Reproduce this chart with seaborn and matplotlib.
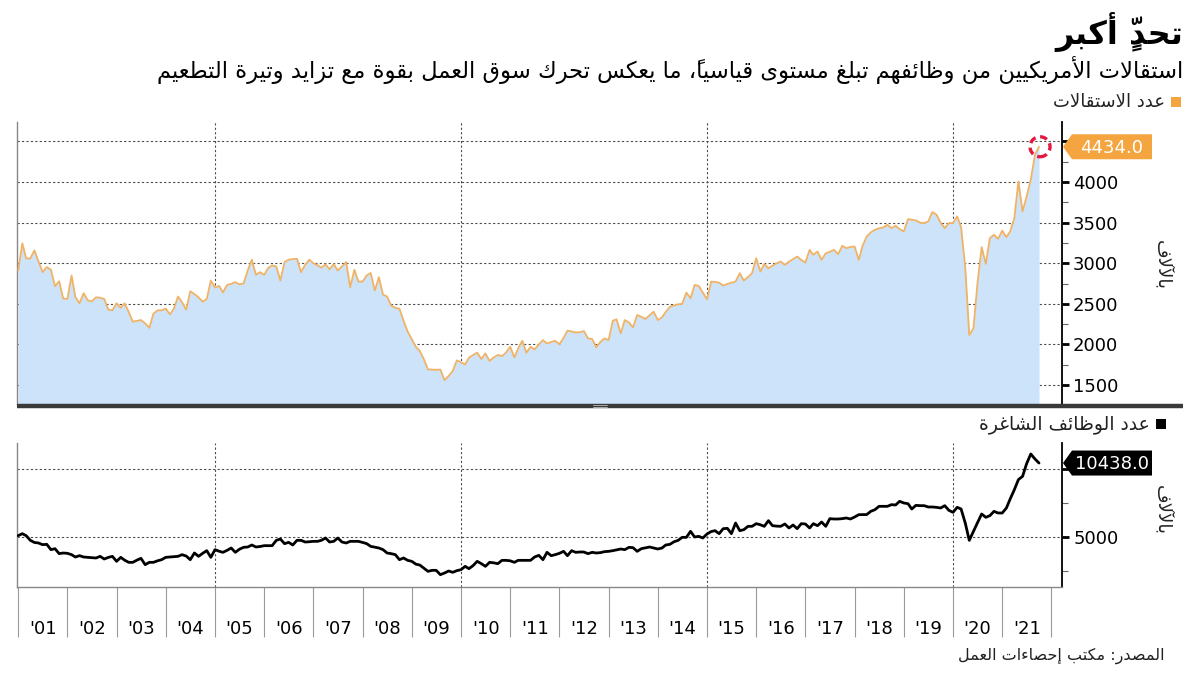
import numpy as np
import pandas as pd
import matplotlib
matplotlib.use("Agg")
import matplotlib.pyplot as plt
import seaborn as sns
from matplotlib.patches import Polygon, Circle, Rectangle
from matplotlib.lines import Line2D
from matplotlib.transforms import IdentityTransform

# ---------------- data (monthly, Dec 2000 .. Sep 2021, thousands) ----------------
first_month = "2000-12-31"
quits = [
    2911,
    3245, 3059, 3059, 3158, 3020, 2890, 2952, 2920, 2716, 2778, 2564, 2560,
    2849, 2585, 2506, 2630, 2543, 2530, 2580, 2575, 2560, 2428, 2420, 2506,
    2450, 2506, 2400, 2280, 2290, 2300, 2260, 2204, 2378, 2420, 2420, 2440,
    2370, 2440, 2590, 2520, 2428, 2655, 2620, 2580, 2527, 2560, 2787, 2700,
    2720, 2640, 2733, 2745, 2767, 2740, 2750, 2911, 3043, 2857, 2890, 2857,
    2944, 2973, 2960, 2787, 3014, 3043, 3050, 3055, 2890, 2980, 3043, 3000,
    2975, 2945, 2985, 2925, 2990, 2910, 2960, 3014, 2705, 2919, 2774, 2774,
    2850, 2880, 2663, 2828, 2613, 2590, 2477, 2450, 2440, 2291, 2159, 2064,
    1969, 1920, 1816, 1692, 1690, 1688, 1690, 1561, 1610, 1673, 1804, 1780,
    1754, 1837, 1870, 1899, 1820, 1890, 1796, 1840, 1870, 1856, 1900, 1971,
    1840, 1950, 2045, 1897, 1971, 1938, 2000, 2053, 2012, 2030, 2045, 2000,
    2080, 2169, 2160, 2148, 2150, 2165, 2074, 2066, 1963, 2030, 2074, 2053,
    2292, 2309, 2136, 2300, 2270, 2210, 2362, 2340, 2313, 2360, 2403, 2300,
    2333, 2400, 2465, 2480, 2494, 2500, 2638, 2568, 2733, 2720, 2640, 2556,
    2774, 2770, 2761, 2724, 2745, 2761, 2774, 2877, 2786, 2830, 2877, 3062,
    2897, 2992, 2938, 2970, 3000, 3021, 2979, 3020, 3050, 3082, 3040, 3008,
    3165, 3103, 3144, 3041, 3123, 3140, 3165, 3111, 3214, 3185, 3200, 3206,
    3041, 3214, 3329, 3380, 3412, 3430, 3440, 3473, 3432, 3461, 3420, 3391,
    3543, 3535, 3527, 3500, 3494, 3514, 3630, 3597, 3500, 3432, 3494, 3494,
    3576, 3444, 2950, 2115, 2198, 2753, 3198, 2992, 3309, 3350, 3300, 3400,
    3321, 3391, 3556, 4008, 3638, 3823, 4029, 4337, 4434,
]
openings = [
    5098,
    5245, 5098, 4755, 4600, 4559, 4436, 4461, 4069, 4142, 3775, 3824, 3800,
    3701, 3529, 3627, 3529, 3500, 3480, 3456, 3578, 3382, 3500, 3578, 3211,
    3505, 3300, 3137, 3137, 3300, 3431, 2966, 3137, 3137, 3250, 3333, 3505,
    3530, 3550, 3578, 3701, 3600, 3333, 3824, 3578, 3800, 3995, 3505, 4069,
    3950, 3873, 4020, 4191, 3873, 4100, 4240, 4265, 4412, 4265, 4300, 4363,
    4360, 4363, 4755, 4853, 4510, 4608, 4412, 4755, 4755, 4632, 4650, 4681,
    4681, 4755, 4926, 4632, 4681, 4926, 4632, 4559, 4681, 4681, 4681, 4600,
    4510, 4314, 4250, 4191, 4069, 3824, 3775, 3701, 3333, 3456, 3284, 3211,
    3000, 2941, 2700, 2475, 2549, 2549, 2230, 2353, 2500, 2402, 2525, 2598,
    2843, 2672, 2900, 3211, 3039, 2843, 3137, 3100, 3039, 3284, 3284, 3250,
    3137, 3284, 3284, 3284, 3284, 3529, 3652, 3333, 3873, 3627, 3701, 3800,
    3946, 3627, 3995, 3873, 3897, 3897, 3775, 3873, 3824, 3850, 3922, 3946,
    3995, 4050, 4118, 4069, 4240, 4216, 3946, 4142, 4200, 4265, 4191, 4118,
    4191, 4412, 4461, 4650, 4755, 4975, 4975, 5417, 5000, 5049, 4926, 5221,
    5400, 5466, 5245, 5613, 5637, 5245, 6029, 5466, 5539, 5784, 5784, 5980,
    5900, 5784, 6201, 5833, 5800, 5784, 5956, 5662, 5882, 5613, 5980, 5956,
    5662, 5980, 5833, 6103, 5784, 6348, 6323, 6323, 6350, 6397, 6323, 6470,
    6642, 6642, 6650, 6887, 7010, 7255, 7255, 7255, 7377, 7353, 7623, 7500,
    7451, 7059, 7328, 7304, 7304, 7206, 7206, 7180, 7132, 7304, 6961, 6814,
    7181, 7059, 6029, 4755, 5417, 6050, 6691, 6446, 6569, 6887, 6765, 6765,
    7132, 7794, 8480, 9216, 9461, 10392, 11103, 10735, 10438,
]
years = list(range(2001, 2022))
year_labels = ["'01", "'02", "'03", "'04", "'05", "'06", "'07", "'08", "'09", "'10",
               "'11", "'12", "'13", "'14", "'15", "'16", "'17", "'18", "'19", "'20", "'21"]
grid_years = [2005, 2010, 2015, 2020]
quits_ticks = [1500, 2000, 2500, 3000, 3500, 4000, 4500]
quits_minor = [1750, 2250, 2750, 3250, 3750, 4250]
open_ticks = [5000, 10000]
open_tick_labels = ["5000", ""]   # the 10000 label sits hidden under the call-out box
open_minor = [2500, 7500]

title = "تحدٍّ أكبر"
subtitle = "استقالات الأمريكيين من وظائفهم تبلغ مستوى قياسياً، ما يعكس تحرك سوق العمل بقوة مع تزايد وتيرة التطعيم"
legend_quits = "عدد الاستقالات"
legend_open = "عدد الوظائف الشاغرة"
unit_label = "بالآلاف"
source = "المصدر: مكتب إحصاءات العمل"

# ---------------- minimal Arabic shaping (presentation forms + RTL order) ----------------
_TABLE = [("ء", 0xFE80, 1), ("آ", 0xFE81, 2), ("أ", 0xFE83, 2), ("ؤ", 0xFE85, 2),
          ("إ", 0xFE87, 2), ("ئ", 0xFE89, 4), ("ا", 0xFE8D, 2), ("ب", 0xFE8F, 4),
          ("ة", 0xFE93, 2), ("ت", 0xFE95, 4), ("ث", 0xFE99, 4), ("ج", 0xFE9D, 4),
          ("ح", 0xFEA1, 4), ("خ", 0xFEA5, 4), ("د", 0xFEA9, 2), ("ذ", 0xFEAB, 2),
          ("ر", 0xFEAD, 2), ("ز", 0xFEAF, 2), ("س", 0xFEB1, 4), ("ش", 0xFEB5, 4),
          ("ص", 0xFEB9, 4), ("ض", 0xFEBD, 4), ("ط", 0xFEC1, 4), ("ظ", 0xFEC5, 4),
          ("ع", 0xFEC9, 4), ("غ", 0xFECD, 4), ("ف", 0xFED1, 4), ("ق", 0xFED5, 4),
          ("ك", 0xFED9, 4), ("ل", 0xFEDD, 4), ("م", 0xFEE1, 4), ("ن", 0xFEE5, 4),
          ("ه", 0xFEE9, 4), ("و", 0xFEED, 2), ("ى", 0xFEEF, 2), ("ي", 0xFEF1, 4)]
FORMS = {c: (s, n) for c, s, n in _TABLE}
LAMALEF = {"آ": 0xFEF5, "أ": 0xFEF7, "إ": 0xFEF9, "ا": 0xFEFB}


def _is_mark(ch):
    return "\u064B" <= ch <= "\u0652" or ch == "\u0670"


def ar(text):
    toks = []
    for ch in text:
        if _is_mark(ch) and toks:
            toks[-1][1] += ch
        else:
            toks.append([ch, ""])
    merged, i = [], 0
    while i < len(toks):
        b, mk = toks[i]
        if b == "ل" and i + 1 < len(toks) and toks[i + 1][0] in LAMALEF:
            merged.append(["LA" + toks[i + 1][0], mk + toks[i + 1][1]])
            i += 2
        else:
            merged.append([b, mk])
            i += 1

    def nf(b):
        if b is None:
            return 0
        if b.startswith("LA"):
            return 2
        return FORMS[b][1] if b in FORMS else 0

    out = []
    for i, (b, mk) in enumerate(merged):
        n = nf(b)
        if n == 0:
            out.append(b)
            continue
        prev = merged[i - 1][0] if i > 0 else None
        nxt = merged[i + 1][0] if i + 1 < len(merged) else None
        pc = nf(prev) == 4 and n >= 2
        nc = n == 4 and nf(nxt) >= 2
        base = LAMALEF[b[2:]] if b.startswith("LA") else FORMS[b][0]
        if pc and nc:
            code = base + 3
        elif pc:
            code = base + 1
        elif nc:
            code = base + 2
        else:
            code = base
        # zero-width marks draw to the right of their origin -> put them before the base
        out.append(mk + chr(code))
    return "".join(reversed(out))


# ---------------- figure ----------------
sns.set_theme(style="white")
plt.rcParams["font.family"] = ["DejaVu Sans"]

W, H = 1200, 675
fig = plt.figure(figsize=(12, 6.75), dpi=100)
fig.patch.set_facecolor("white")

dates = pd.date_range(first_month, periods=len(quits), freq="ME")
xdec = dates.year + dates.dayofyear / np.where(dates.is_leap_year, 366.0, 365.0)
df = pd.DataFrame({"x": xdec, "quits": quits, "openings": openings})

XMIN, XMAX = 2000.976, 2022.215
L, R = 17 / W, 1062 / W
ax1 = fig.add_axes([L, (H - 405) / H, R - L, 283 / H])
ax2 = fig.add_axes([L, (H - 587) / H, R - L, 144 / H])

grid_kw = dict(color="#4d4d4d", lw=0.8, ls=(0, (2, 2)), zorder=1)

# --- top panel: quits ---
Y1 = (1254, 4739)
ax1.fill_between(df["x"], Y1[0] - 500, df["quits"], color="#CCE3FA", lw=0, zorder=2)
sns.lineplot(data=df, x="x", y="quits", ax=ax1, color="#F0B366", lw=1.3, zorder=3)
ax1.set_xlim(XMIN, XMAX)
ax1.set_ylim(*Y1)
for yv in quits_ticks:
    ax1.axhline(yv, **grid_kw)
for gx in grid_years:
    ax1.axvline(gx, **grid_kw)
ax1.yaxis.tick_right()
ax1.set_yticks(quits_ticks)
ax1.set_yticks(quits_minor, minor=True)
ax1.set_yticklabels([str(v) for v in quits_ticks])
ax1.tick_params(axis="y", which="major", right=True, length=5, width=2, color="black",
                labelsize=13, pad=3, labelcolor="black")
ax1.tick_params(axis="y", which="minor", right=True, length=4, width=0.8, color="#666")
ax1.set_xticks([])
ax1.set_xlabel("")
ax1.set_ylabel("")
for s in ["top", "bottom"]:
    ax1.spines[s].set_visible(False)
ax1.spines["left"].set_color("#888")
ax1.spines["left"].set_linewidth(1)
ax1.spines["right"].set_color("black")
ax1.spines["right"].set_linewidth(1.3)

# --- bottom panel: openings ---
Y2 = (1324, 11911)
sns.lineplot(data=df, x="x", y="openings", ax=ax2, color="black", lw=2.0, zorder=3)
ax2.set_xlim(XMIN, XMAX)
ax2.set_ylim(*Y2)
for yv in open_ticks:
    ax2.axhline(yv, **grid_kw)
for gx in grid_years:
    ax2.axvline(gx, **grid_kw)
ax2.yaxis.tick_right()
ax2.set_yticks(open_ticks)
ax2.set_yticks(open_minor, minor=True)
ax2.set_yticklabels(open_tick_labels)
ax2.tick_params(axis="y", which="major", right=True, length=5, width=2, color="black",
                labelsize=13, pad=3, labelcolor="black")
ax2.tick_params(axis="y", which="minor", right=True, length=4, width=0.8, color="#666")
ax2.set_xticks(years + [years[-1] + 1])
ax2.set_xticklabels([""] * (len(years) + 1))
ax2.set_xticks([y + 0.5 for y in years], minor=True)
ax2.set_xticklabels(year_labels, minor=True)
ax2.tick_params(axis="x", which="major", bottom=True, length=36, width=0.8, color="#9a9a9a",
                direction="out")
ax2.tick_params(axis="x", which="minor", bottom=True, length=0, labelsize=13, pad=24,
                labelcolor="black")
ax2.set_xlabel("")
ax2.set_ylabel("")
ax2.spines["top"].set_visible(False)
for s in ["left", "bottom"]:
    ax2.spines[s].set_color("#888")
    ax2.spines[s].set_linewidth(1)
ax2.spines["right"].set_color("black")
ax2.spines["right"].set_linewidth(1.3)

# ---------------- separator bar between panels ----------------
ybar = (H - 406) / H
fig.add_artist(Line2D([L, 1183 / W], [ybar, ybar], color="#3a3a3a", lw=3.2,
                      transform=fig.transFigure, zorder=5, solid_capstyle="butt"))
for dy in (-1.2, 1.2):
    fig.add_artist(Line2D([593 / W, 607 / W], [ybar + dy / H, ybar + dy / H],
                          color="#bdbdbd", lw=0.6, transform=fig.transFigure, zorder=6))

# ---------------- value call-outs ----------------
ident = IdentityTransform()


def callout(ax, xv, yv, text, color):
    sx = ax.transAxes.transform((1, 0))[0]
    py = ax.transData.transform((xv, yv))[1]
    h = 12.5
    poly = Polygon([(sx + 1, py), (sx + 10, py + h), (sx + 90, py + h),
                    (sx + 90, py - h), (sx + 10, py - h)], closed=True,
                   fc=color, ec="none", transform=ident, zorder=7)
    fig.add_artist(poly)
    fig.text(sx + 50, py - 1, text, transform=ident, ha="center", va="center",
             color="white", fontsize=13, zorder=8)


callout(ax1, df["x"].iloc[-1], quits[-1], f"{quits[-1]:.1f}", "#F5A540")
callout(ax2, df["x"].iloc[-1], openings[-1], f"{openings[-1]:.1f}", "black")

cx, cy = ax1.transData.transform((df["x"].iloc[-1], quits[-1]))
fig.add_artist(Circle((cx + 1, cy), radius=10, transform=ident, fill=False,
                      ec="#E3173F", lw=2.4, ls=(0, (2.2, 1.4)), zorder=9))

# ---------------- texts ----------------
fig.text(1183 / W, 1 - 32 / H, ar(title), ha="right", va="center", fontsize=23,
         fontweight="bold", color="black")
fig.text(1183 / W, 1 - 70 / H, ar(subtitle), ha="right", va="center", fontsize=16.3,
         color="black")
fig.add_artist(Rectangle((1171 / W, 1 - 107 / H), 10 / W, 10 / H, fc="#F5A540", ec="none",
                         transform=fig.transFigure))
fig.text(1165 / W, 1 - 102 / H, ar(legend_quits), ha="right", va="center", fontsize=13,
         color="#222")
fig.add_artist(Rectangle((1156 / W, 1 - 429 / H), 10 / W, 10 / H, fc="black", ec="none",
                         transform=fig.transFigure))
fig.text(1150 / W, 1 - 424 / H, ar(legend_open), ha="right", va="center", fontsize=13.5,
         color="#222")
fig.text(1163 / W, 1 - 265 / H, ar(unit_label), ha="center", va="center", fontsize=13,
         rotation=270, color="#222")
fig.text(1163 / W, 1 - 510 / H, ar(unit_label), ha="center", va="center", fontsize=13,
         rotation=270, color="#222")
fig.text(1165 / W, 1 - 656 / H, ar(source), ha="right", va="center", fontsize=11.5,
         color="#222")

fig.savefig("out.png", dpi=100, facecolor="white")
